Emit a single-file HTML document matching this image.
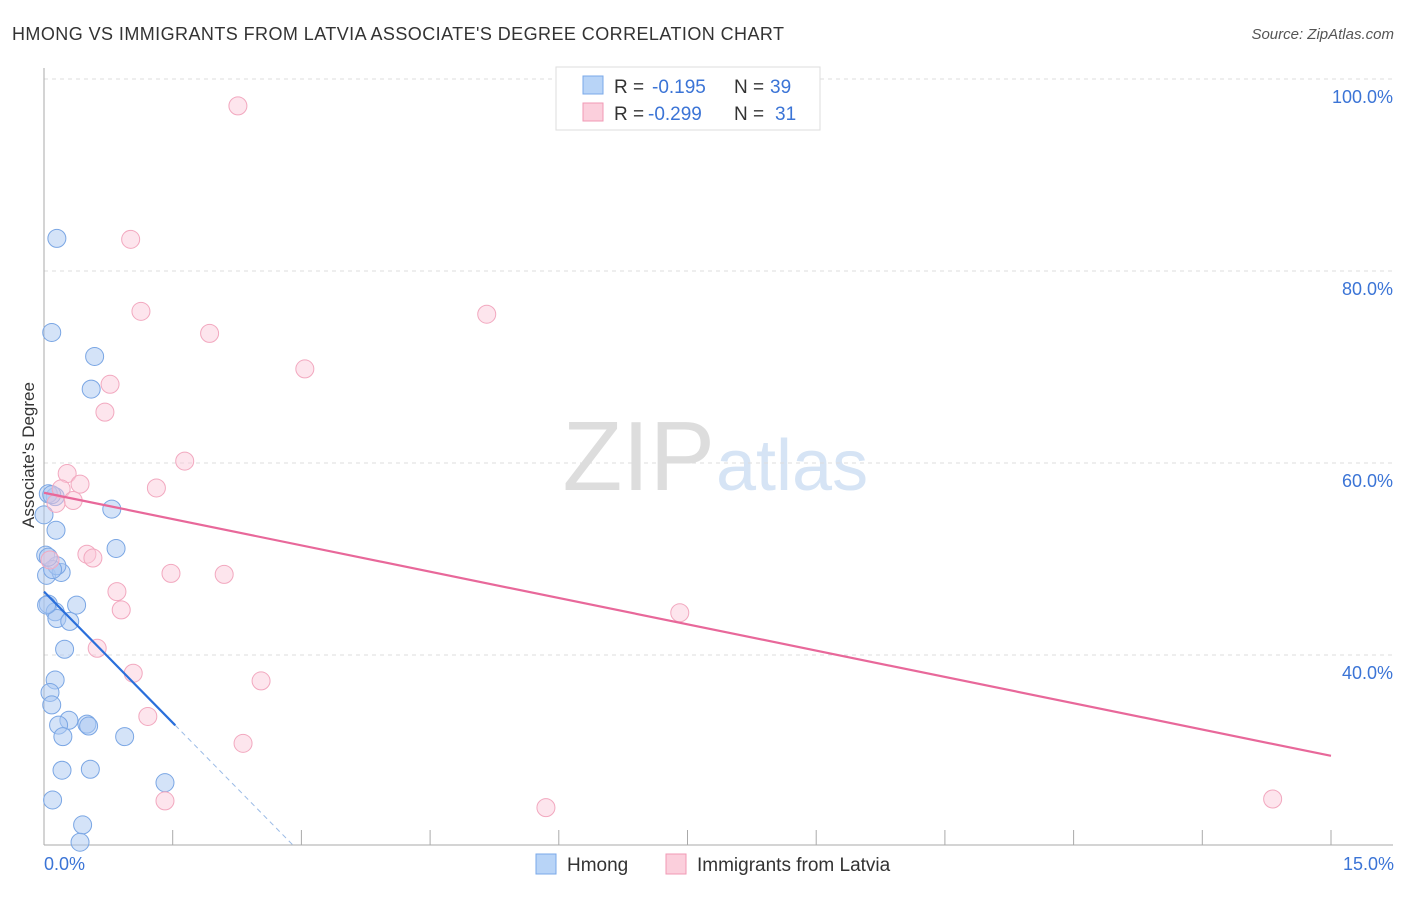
<!DOCTYPE html>
<html><head><meta charset="utf-8"><style>
body{margin:0;background:#fff;font-family:"Liberation Sans",sans-serif}
svg text{font-family:"Liberation Sans",sans-serif}
</style></head><body>
<svg id="c" width="1406" height="892" xmlns="http://www.w3.org/2000/svg">
<text x="12" y="40" font-size="18" fill="#333" textLength="772">HMONG VS IMMIGRANTS FROM LATVIA ASSOCIATE'S DEGREE CORRELATION CHART</text>
<text x="1394" y="39" font-size="15" fill="#555" text-anchor="end" font-style="italic">Source: ZipAtlas.com</text>
<text x="715" y="490" font-size="98" fill="#ddd" text-anchor="end" font-family="Liberation Serif">ZIP</text>
<text x="716" y="490" font-size="72" fill="#d6e4f5">atlas</text>
<g id="grid"></g><g id="pts"></g><g id="lines"></g>
<text x="34" y="455" font-size="17" fill="#333" text-anchor="middle" transform="rotate(-90 34 455)">Associate's Degree</text>
<text x="44" y="870" font-size="18" fill="#3b74d6">0.0%</text>
<text x="1394" y="870" font-size="18" fill="#3b74d6" text-anchor="end">15.0%</text>
<g>
<rect x="556" y="67" width="264" height="63" fill="#fff" stroke="#ddd"/>
<rect x="583" y="76" width="20" height="18" fill="#b8d4f7" stroke="#7aa8e8"/>
<rect x="583" y="103" width="20" height="18" fill="#fbcfdc" stroke="#f09ab5"/>
<text x="614" y="93" font-size="19" fill="#333">R = <tspan x="652" fill="#3b74d6">-0.195</tspan><tspan x="734">N = </tspan><tspan x="770" fill="#3b74d6">39</tspan></text>
<text x="614" y="120" font-size="19" fill="#333">R = <tspan x="648" fill="#3b74d6">-0.299</tspan><tspan x="734">N = </tspan><tspan x="775" fill="#3b74d6">31</tspan></text>
</g>
<g>
<rect x="536" y="854" width="20" height="20" fill="#b8d4f7" stroke="#7aa8e8"/>
<text x="567" y="871" font-size="19" fill="#333">Hmong</text>
<rect x="666" y="854" width="20" height="20" fill="#fbcfdc" stroke="#f09ab5"/>
<text x="697" y="871" font-size="19" fill="#333">Immigrants from Latvia</text>
</g>
</svg>
<script>
const yTicks=[100,80,60,40];
const yTickLabels=["100.0%","80.0%","60.0%","40.0%"];
const hmongX=[0.15,0.09,0.59,0.55,0.79,0.84,0.13,0.05,0.14,0.02,0.03,0.20,0.15,0.10,0.38,0.05,0.13,0.15,0.30,0.24,0.13,0.07,0.09,0.29,0.17,0.50,0.52,0.22,0.94,0.21,0.54,1.41,0.10,0.45,0.42,0.0,0.09,0.05,0.03];
const hmongY=[83.4,73.6,71.1,67.7,55.2,51.1,56.5,56.8,53.0,50.4,48.3,48.6,49.3,48.9,45.2,45.3,44.5,43.8,43.5,40.6,37.4,36.1,34.8,33.2,32.7,32.8,32.6,31.5,31.5,28.0,28.1,26.7,24.9,22.3,20.5,54.6,56.7,50.2,45.2];
const latviaX=[2.26,1.01,1.13,1.93,5.16,3.04,0.77,0.71,1.64,0.27,1.31,0.42,0.20,0.34,0.14,0.50,0.57,1.48,2.10,0.85,0.90,0.62,1.04,2.53,1.21,2.32,1.41,5.85,7.41,14.32,0.07];
const latviaY=[97.2,83.3,75.8,73.5,75.5,69.8,68.2,65.3,60.2,58.9,57.4,57.8,57.3,56.1,55.8,50.5,50.1,48.5,48.4,46.6,44.7,40.7,38.1,37.3,33.6,30.8,24.8,24.1,44.4,25.0,49.9];
const hmongTrend=[46.6,-9.1];
const latviaTrend=[56.9,-1.827];
const NS="http://www.w3.org/2000/svg";
const X=v=>44+v*1287/15, Y=v=>1039-v*9.6;
function mk(t,a,p){const e=document.createElementNS(NS,t);for(const k in a)e.setAttribute(k,a[k]);p.appendChild(e);return e;}
const g=document.getElementById('grid');
yTicks.forEach((t,i)=>{
 const l=mk('line',{x1:44,x2:1393,y1:Y(t),y2:Y(t),stroke:'#ddd','stroke-dasharray':'4,4'},g);
 
 
 const tx=mk('text',{x:1393,y:Y(t)+24,'font-size':18,fill:'#3b74d6','text-anchor':'end'},g);
 tx.textContent=yTickLabels[i];
 
 
});
const ax=mk('line',{x1:44,x2:44,y1:68,y2:845,stroke:'#aaa'},g);


const bx=mk('line',{x1:44,x2:1393,y1:845,y2:845,stroke:'#aaa'},g);


for(let i=1;i<=10;i++){const t=mk('line',{x1:X(i*1.5),x2:X(i*1.5),y1:830,y2:845,stroke:'#aaa'},g);
 
 }
const p=document.getElementById('pts');
hmongX.forEach((x,i)=>{const c=mk('circle',{cx:X(x),cy:Y(hmongY[i]),r:9,fill:'rgba(170,200,242,0.5)',stroke:'#7aa6e4','stroke-width':1},p);
 
 });
latviaX.forEach((x,i)=>{const c=mk('circle',{cx:X(x),cy:Y(latviaY[i]),r:9,fill:'rgba(250,198,214,0.45)',stroke:'#f2a8bf','stroke-width':1},p);
 
 });
const L=document.getElementById('lines');
const f=(tr,x)=>tr[0]+tr[1]*x;
let a=mk('line',{x1:X(0),y1:Y(f(latviaTrend,0)),x2:X(15),y2:Y(f(latviaTrend,15)),stroke:'#e8689a','stroke-width':2.2},L);


const xe=(20.2-hmongTrend[0])/hmongTrend[1];
a=mk('line',{x1:X(1.53),y1:Y(f(hmongTrend,1.53)),x2:X(xe),y2:Y(f(hmongTrend,xe)),stroke:'#9bbbe6','stroke-width':1,'stroke-dasharray':'5,4'},L);


a=mk('line',{x1:X(0),y1:Y(f(hmongTrend,0)),x2:X(1.53),y2:Y(f(hmongTrend,1.53)),stroke:'#2a6fdb','stroke-width':2.2},L);


</script>
</body></html>
